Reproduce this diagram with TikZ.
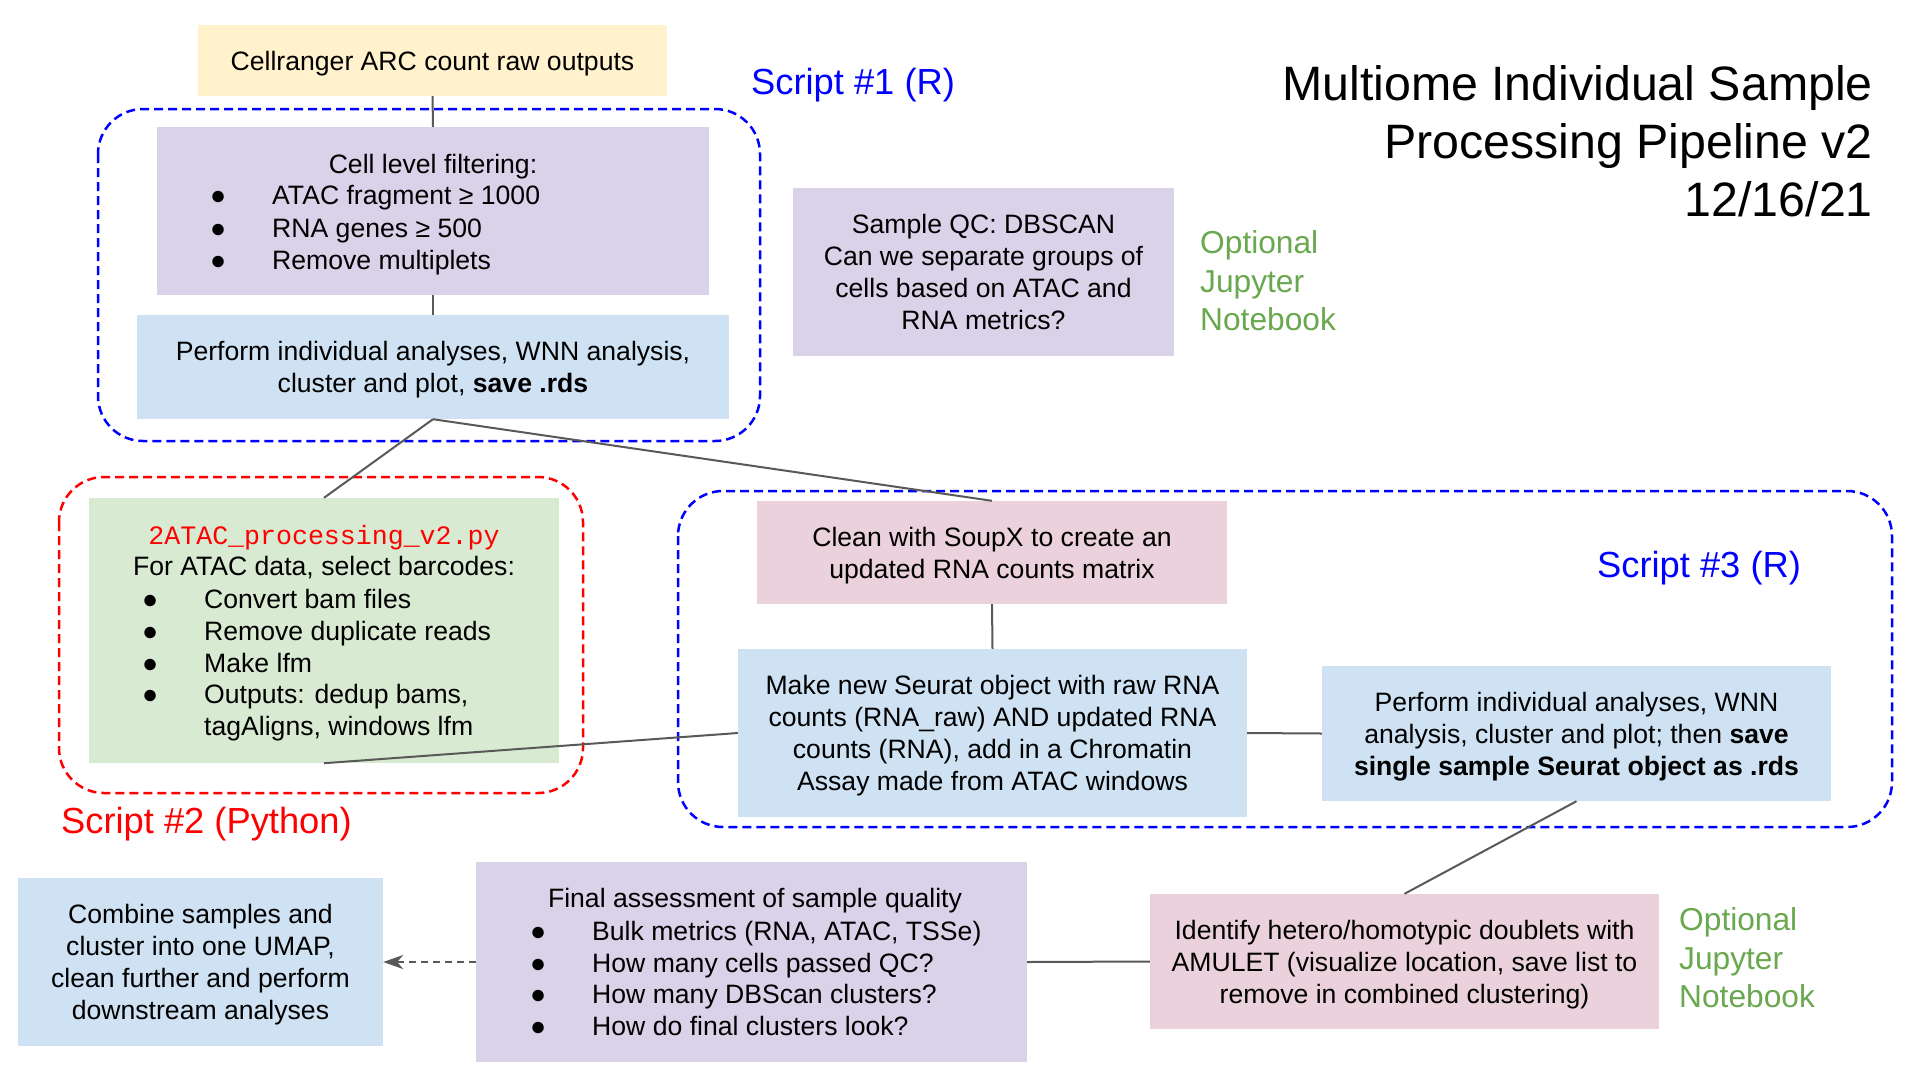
\documentclass[tikz,border=0pt]{standalone}
\usepackage{fontspec}
\setmainfont{Liberation Sans}
\newfontfamily\monofam{Liberation Mono}
\usetikzlibrary{arrows.meta}
\definecolor{yellowbox}{HTML}{FFF2CC}
\definecolor{purplebox}{HTML}{D9D2E9}
\definecolor{bluebox}{HTML}{CFE2F3}
\definecolor{greenbox}{HTML}{D9EAD3}
\definecolor{pinkbox}{HTML}{EAD1DC}
\definecolor{optgreen}{HTML}{6AA84F}
\definecolor{linegray}{HTML}{595959}
\definecolor{pureblue}{HTML}{0000FF}
\definecolor{purered}{HTML}{FF0000}
\newcommand\bodyfs{\fontsize{26.6}{32}\selectfont}
\newcommand\titlefs{\fontsize{48.3}{58}\selectfont}
\newcommand\labelfs{\fontsize{36.3}{43}\selectfont}
\newcommand\optfs{\fontsize{31.7}{38.5}\selectfont}
\newcommand\bul[1]{\makebox[62pt][l]{●}#1}
\tikzset{
  box/.style={rectangle, inner sep=0pt},
  txt/.style={inner sep=0pt, font=\bodyfs},
  boxtext/.style={inner sep=0pt, font=\bodyfs, align=center},
  conn/.style={draw=linegray, line width=2pt},
  dashedarrow/.style={draw=linegray, line width=2pt, dash pattern=on 7pt off 5pt,
    -{Stealth[length=20pt,width=14pt,inset=6pt]}},
  scriptbox/.style={line width=2.5pt, dash pattern=on 9pt off 5pt, rounded corners=45pt},
  scriptlabel/.style={inner sep=0pt, font=\labelfs, anchor=base west},
  optlabel/.style={inner sep=0pt, font=\optfs, text=optgreen, align=left, anchor=west}
}
\begin{document}
\begin{tikzpicture}[x=1pt,y=-1pt]
\fill[white] (0,0) rectangle (1917,1080);
\useasboundingbox (0,0) rectangle (1917,1080);

% script containers
\draw[scriptbox, draw=pureblue] (98,109) rectangle (760,441);
\draw[scriptbox, draw=purered] (59,477) rectangle (583,793);
\draw[scriptbox, draw=pureblue] (678,491) rectangle (1892,827);

% labels
\node[scriptlabel, text=pureblue] (s1) at (751,94) {Script \#1 (R)};
\node[scriptlabel, text=purered] (s2) at (61,833) {Script \#2 (Python)};
\node[scriptlabel, text=pureblue] (s3) at (1597,577) {Script \#3 (R)};
\node[inner sep=0pt, font=\titlefs, align=right, anchor=east] (title) at (1873,141)
  {Multiome Individual Sample\\Processing Pipeline v2\\12/16/21};
\node[optlabel] (opt1) at (1200,281) {Optional\\Jupyter\\Notebook};
\node[optlabel] (opt2) at (1679,958) {Optional\\Jupyter\\Notebook};

% boxes
\node[box, fill=yellowbox, minimum width=469pt, minimum height=71pt] (cr) at (432.5,60.5) {};
\node[boxtext] (crt) at ([yshift=-2.8pt]cr.center) {Cellranger ARC count raw outputs};

\node[box, fill=purplebox, minimum width=552pt, minimum height=168pt] (cell) at (433,211) {};
\node[txt, anchor=base] (cellh) at (433,173.5) {Cell level filtering:};
\node[txt, anchor=base west, align=left, font=\fontsize{26.6}{32.5}\selectfont] (celll) at (210,269.5)
  {\bul{ATAC fragment ≥ 1000}\\\bul{RNA genes ≥ 500}\\\bul{Remove multiplets}};

\node[box, fill=bluebox, minimum width=592pt, minimum height=104pt] (perf1) at (433,367) {};
\node[boxtext] (perf1t) at ([yshift=-2.8pt]perf1.center)
  {Perform individual analyses, WNN analysis,\\cluster and plot, \textbf{save .rds}};

\node[box, fill=purplebox, minimum width=381pt, minimum height=168pt] (qc) at (983.5,272) {};
\node[boxtext] (qct) at (qc.center)
  {Sample QC: DBSCAN\\Can we separate groups of\\cells based on ATAC and\\RNA metrics?};

\node[box, fill=greenbox, minimum width=470pt, minimum height=265pt] (atac) at (324,630.5) {};
\node[txt, anchor=base, text=purered, font=\bodyfs\monofam] (atacf) at (324,544.5) {2ATAC\_processing\_v2.py};
\node[txt, anchor=base] (atach) at (324,575.5) {For ATAC data, select barcodes:};
\node[txt, anchor=base west, align=left, font=\fontsize{26.6}{31.75}\selectfont] (atacl) at (142,735.5)
  {\bul{Convert bam files}\\\bul{Remove duplicate reads}\\\bul{Make lfm}\\\bul{Outputs: dedup bams,}\\\hspace*{62pt}tagAligns, windows lfm};

\node[box, fill=pinkbox, minimum width=470pt, minimum height=103pt] (clean) at (992,552.5) {};
\node[boxtext] (cleant) at ([yshift=-2.8pt]clean.center)
  {Clean with SoupX to create an\\updated RNA counts matrix};

\node[box, fill=bluebox, minimum width=509pt, minimum height=168pt] (make) at (992.5,733) {};
\node[boxtext] (maket) at ([yshift=-2.8pt]make.center)
  {Make new Seurat object with raw RNA\\counts (RNA\_raw) AND updated RNA\\counts (RNA), add in a Chromatin\\Assay made from ATAC windows};

\node[box, fill=bluebox, minimum width=509pt, minimum height=135pt] (perf2) at (1576.5,733.5) {};
\node[boxtext] (perf2t) at ([yshift=-2.8pt]perf2.center)
  {Perform individual analyses, WNN\\analysis, cluster and plot; then \textbf{save}\\\textbf{single sample Seurat object as .rds}};

\node[box, fill=pinkbox, minimum width=509pt, minimum height=135pt] (ident) at (1404.5,961.5) {};
\node[boxtext] (identt) at ([yshift=-2.8pt]ident.center)
  {Identify hetero/homotypic doublets with\\AMULET (visualize location, save list to\\remove in combined clustering)};

\node[box, fill=purplebox, minimum width=551pt, minimum height=200pt] (final) at (751.5,962) {};
\node[txt, anchor=base] (finalh) at (755,907.5) {Final assessment of sample quality};
\node[txt, anchor=base west, align=left, font=\fontsize{26.6}{31.7}\selectfont] (finall) at (530,1035.6)
  {\bul{Bulk metrics (RNA, ATAC, TSSe)}\\\bul{How many cells passed QC?}\\\bul{How many DBScan clusters?}\\\bul{How do final clusters look?}};

\node[box, fill=bluebox, minimum width=365pt, minimum height=168pt] (comb) at (200.5,962) {};
\node[boxtext] (combt) at ([yshift=-2.8pt]comb.center)
  {Combine samples and\\cluster into one UMAP,\\clean further and perform\\downstream analyses};

% connectors
\draw[conn] (cr.south) -- (cell.north);
\draw[conn] (cell.south) -- (perf1.north);
\draw[conn] (perf1.south) -- (atac.north);
\draw[conn] (perf1.south) -- (clean.north);
\draw[conn] (clean.south) -- (make.north);
\draw[conn] (make.west) -- (atac.south);
\draw[conn] (make.east) -- (perf2.west);
\draw[conn] (perf2.south) -- (ident.north);
\draw[conn] (ident.west) -- (final.east);
\draw[dashedarrow] (final.west) -- (comb.east);
\end{tikzpicture}
\end{document}
